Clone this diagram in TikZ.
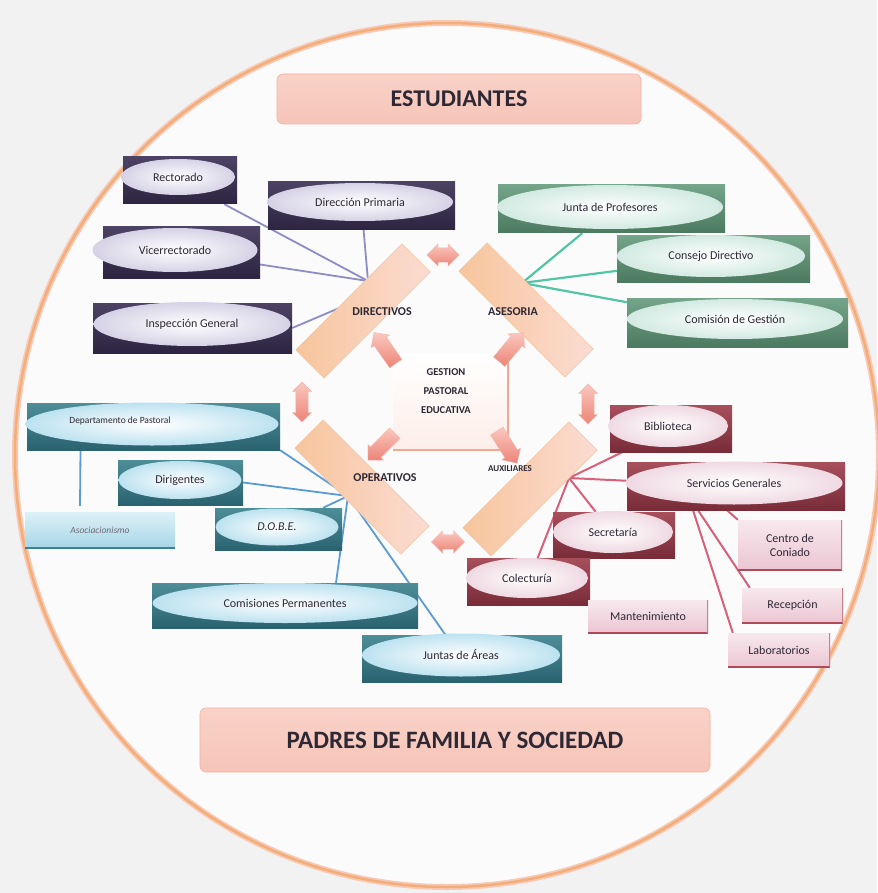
\documentclass[tikz,border=0pt]{standalone}
\usepackage{fontspec}
\setmainfont{Carlito}
\usetikzlibrary{shapes.geometric,shapes.arrows}
\pgfdeclarelayer{back}
\pgfdeclarelayer{lines}
\pgfsetlayers{back,lines,main}
\definecolor{bgc}{HTML}{F3F2F2}
\definecolor{inside}{HTML}{FCFBFB}
\definecolor{ringA}{HTML}{F8C9B6}
\definecolor{ringB}{HTML}{F3AE78}
\definecolor{txt}{HTML}{2E2834}
\definecolor{dirA}{HTML}{4C4364}
\definecolor{dirB}{HTML}{2C2440}
\definecolor{dirE}{HTML}{D6D2E6}
\definecolor{aseA}{HTML}{74A489}
\definecolor{aseB}{HTML}{4C7A60}
\definecolor{aseE}{HTML}{D2EAE2}
\definecolor{opA}{HTML}{4E8E98}
\definecolor{opB}{HTML}{2A6270}
\definecolor{opE}{HTML}{BCE2F0}
\definecolor{auxA}{HTML}{A84F5C}
\definecolor{auxB}{HTML}{782C38}
\definecolor{auxE}{HTML}{EFD9E2}
\definecolor{pkA}{HTML}{F8E8EE}
\definecolor{pkB}{HTML}{EBC6D2}
\definecolor{pkL}{HTML}{B04A5A}
\definecolor{asA}{HTML}{DDF1F8}
\definecolor{asB}{HTML}{A6D5E8}
\definecolor{asL}{HTML}{3F7F99}
\definecolor{dlc}{HTML}{8C8CC6}
\definecolor{alc}{HTML}{52C6A4}
\definecolor{olc}{HTML}{5B9BD5}
\definecolor{xlc}{HTML}{D8607A}
\definecolor{barA}{HTML}{F7C59C}
\definecolor{barB}{HTML}{FBDCD2}
\definecolor{barL}{HTML}{F3C4A2}
\definecolor{arA}{HTML}{FBC8BE}
\definecolor{arB}{HTML}{EC8478}
\definecolor{lbA}{HTML}{F9D2C8}
\definecolor{lbM}{HTML}{F7C494}
\definecolor{lbB}{HTML}{F6C4B8}
\definecolor{coreL}{HTML}{F1A88E}
\begin{document}
\begin{tikzpicture}[x=1pt,y=-1pt,
  ubox/.style={rectangle, inner sep=0pt, draw=none},
  lab/.style={font=\fontsize{12}{14}\selectfont, text=txt},
  dirbox/.style={ubox, top color=dirA, bottom color=dirB},
  direll/.style={ellipse, inner sep=0pt, inner color=white, outer color=dirE, lab},
  asebox/.style={ubox, top color=aseA, bottom color=aseB},
  aseell/.style={ellipse, inner sep=0pt, inner color=white, outer color=aseE, lab},
  opbox/.style={ubox, top color=opA, bottom color=opB},
  opell/.style={ellipse, inner sep=0pt, inner color=white, outer color=opE, lab},
  auxbox/.style={ubox, top color=auxA, bottom color=auxB},
  auxell/.style={ellipse, inner sep=0pt, inner color=white, outer color=auxE, lab},
  pinkbox/.style={ubox, top color=pkA, bottom color=pkB, lab, align=center,
    path picture={\draw[pkL, line width=2.5pt] (path picture bounding box.south west) -- (path picture bounding box.south east);
                  \draw[pkL!70, line width=1.5pt] (path picture bounding box.south east) -- (path picture bounding box.north east);}},
  asobox/.style={ubox, top color=asA, bottom color=asB, font=\fontsize{9.5}{11}\selectfont\itshape, text=txt!70,
    path picture={\draw[asL, line width=2.5pt] (path picture bounding box.south west) -- (path picture bounding box.south east);}},
  lbox/.style={rectangle, rounded corners=6pt, top color=lbA, middle color=lbM, bottom color=lbB, draw=lbB!90!red, line width=0.6pt, text=txt},
  barsty/.style={rectangle, minimum width=150pt, minimum height=40pt, inner sep=0pt, left color=barA, right color=barB, draw=barL, line width=0.5pt},
  blabel/.style={font=\bfseries\fontsize{12}{13}\selectfont, text=txt},
  dblarrow/.style={double arrow, double arrow head extend=3pt, inner xsep=0pt, inner ysep=5.5pt, minimum width=22pt, top color=arA, bottom color=arB, draw=arB!60, line width=0.4pt},
  sglarrow/.style={single arrow, single arrow head extend=3pt, inner xsep=0pt, inner ysep=6pt, minimum width=22pt, minimum height=38pt, top color=arA, bottom color=arB, draw=arB!60, line width=0.4pt},
  dline/.style={draw=dlc, line width=1.8pt},
  aline/.style={draw=alc, line width=2.2pt},
  oline/.style={draw=olc, line width=1.8pt},
  xline/.style={draw=xlc, line width=2pt}
]
\useasboundingbox (0,0) rectangle (877,893);
\begin{pgfonlayer}{back}
\fill[bgc] (0,0) rectangle (877,893);
\fill[inside] (447,455) circle (432pt);
\draw[ringA, line width=6pt] (447,455) circle (432pt);
\draw[ringB, line width=2.5pt] (447,455) circle (432pt);
\end{pgfonlayer}

% title boxes
\node[lbox, minimum width=364pt, minimum height=50pt, font=\bfseries\fontsize{24}{28}\selectfont] (est) at (459,99) {ESTUDIANTES};
\node[lbox, minimum width=510pt, minimum height=64pt, font=\bfseries\fontsize{25}{28}\selectfont] (pad) at (455,740) {PADRES DE FAMILIA Y SOCIEDAD};

% centre square
\node[ubox, minimum width=115pt, minimum height=97pt, top color=white, bottom color=barB!50] (core) at (450.5,401.5) {};
\draw[coreL, line width=2pt] (core.north east) -- (core.south east) -- (core.south west);

% bars
\node[barsty, rotate=45] (bDir) at (363,311) {};
\node[barsty, rotate=-45] (bAse) at (526,310) {};
\node[barsty, rotate=-45] (bOpe) at (362,487) {};
\node[barsty, rotate=45] (bAux) at (530,489) {};
\node[blabel] (tDir) at (382,312) {DIRECTIVOS};
\node[blabel] (tAse) at (513,312) {ASESORIA};
\node[blabel] (tOpe) at (385,478) {OPERATIVOS};
\node[blabel, font=\bfseries\fontsize{9}{10}\selectfont] (tAux) at (510,469) {AUXILIARES};
\node[font=\bfseries\fontsize{10.5}{19}\selectfont, text=txt, align=center] (gpe) at (446,391) {GESTION\\PASTORAL\\EDUCATIVA};

% hubs
\coordinate (hDir) at (368,281);
\coordinate (hDir2) at (344,306);
\coordinate (hAse) at (522,283);
\coordinate (hOpe) at (348,496);
\coordinate (hAux) at (569,478);

% DIRECTIVOS group
\node[dirbox, minimum width=114pt, minimum height=47pt] (rRect) at (180,180.5) {};
\node[direll, minimum width=114pt, minimum height=36pt] (rEll) at (178,177) {Rectorado};
\node[dirbox, minimum width=187pt, minimum height=48pt] (dpRect) at (361.5,206) {};
\node[direll, minimum width=186pt, minimum height=38pt] (dpEll) at (360,202) {Dirección Primaria};
\node[dirbox, minimum width=157pt, minimum height=51pt] (vRect) at (181.5,252.5) {};
\node[direll, minimum width=165pt, minimum height=44pt] (vEll) at (175,250) {Vicerrectorado};
\node[dirbox, minimum width=199pt, minimum height=50pt] (igRect) at (192.5,328) {};
\node[direll, minimum width=197pt, minimum height=44pt] (igEll) at (192,324) {Inspección General};

% ASESORIA group
\node[asebox, minimum width=227pt, minimum height=48pt] (jpRect) at (611.5,209) {};
\node[aseell, minimum width=226pt, minimum height=44pt] (jpEll) at (610,207) {Junta de Profesores};
\node[asebox, minimum width=193pt, minimum height=47pt] (cdRect) at (713.5,258.5) {};
\node[aseell, minimum width=188pt, minimum height=42pt] (cdEll) at (711,256) {Consejo Directivo};
\node[asebox, minimum width=221pt, minimum height=49pt] (cgRect) at (737.5,322.5) {};
\node[aseell, minimum width=216pt, minimum height=40pt] (cgEll) at (735,319) {Comisión de Gestión};

% OPERATIVOS group
\node[opbox, minimum width=253pt, minimum height=47pt] (dpaRect) at (153.5,426.5) {};
\node[opell, minimum width=253pt, minimum height=43pt] (dpaEll) at (152,424) {};
\node[lab, font=\fontsize{9.5}{11}\selectfont] (dpaTxt) at (120,421) {Departamento de Pastoral};
\node[opbox, minimum width=125pt, minimum height=45pt] (diRect) at (180.5,482.5) {};
\node[opell, minimum width=123pt, minimum height=38pt] (diEll) at (180,480) {Dirigentes};
\node[asobox, minimum width=150pt, minimum height=36pt] (asRect) at (100,530) {Asociacionismo};
\node[opbox, minimum width=127pt, minimum height=42pt] (doRect) at (278.5,529) {};
\node[opell, minimum width=123pt, minimum height=37pt] (doEll) at (277,527) {\itshape D.O.B.E.};
\node[opbox, minimum width=266pt, minimum height=45pt] (cpRect) at (285,605.5) {};
\node[opell, minimum width=265pt, minimum height=40pt] (cpEll) at (285,603) {Comisiones Permanentes};
\node[opbox, minimum width=200pt, minimum height=47pt] (jaRect) at (462,658.5) {};
\node[opell, minimum width=198pt, minimum height=43pt] (jaEll) at (461,655) {Juntas de Áreas};

% AUXILIARES group
\node[auxbox, minimum width=122pt, minimum height=47pt] (biRect) at (671,428.5) {};
\node[auxell, minimum width=120pt, minimum height=42pt] (biEll) at (668,426) {Biblioteca};
\node[auxbox, minimum width=218pt, minimum height=48pt] (sgRect) at (736,486) {};
\node[auxell, minimum width=217pt, minimum height=43pt] (sgEll) at (734,483) {Servicios Generales};
\node[auxbox, minimum width=122pt, minimum height=46pt] (seRect) at (614,535) {};
\node[auxell, minimum width=120pt, minimum height=42pt] (seEll) at (613,532) {Secretaría};
\node[auxbox, minimum width=123pt, minimum height=47pt] (coRect) at (528.5,581.5) {};
\node[auxell, minimum width=122pt, minimum height=40pt] (coEll) at (527,578) {Colecturía};
\node[pinkbox, minimum width=120pt, minimum height=33pt] (mRect) at (648,616.5) {Mantenimiento};
\node[pinkbox, minimum width=104pt, minimum height=50pt] (ccRect) at (790,545) {Centro de\\Coniado};
\node[pinkbox, minimum width=101pt, minimum height=35pt] (reRect) at (792.5,605.5) {Recepción};
\node[pinkbox, minimum width=102pt, minimum height=34pt] (laRect) at (779,650) {Laboratorios};

% arrows
\node[dblarrow, minimum height=32pt] (aTop) at (443,255) {};
\node[dblarrow, rotate=90, minimum height=40pt, minimum width=19pt] (aLeft) at (302,402) {};
\node[dblarrow, rotate=90, minimum height=40pt, minimum width=19pt] (aRight) at (588,404) {};
\node[dblarrow, minimum height=33pt] (aBot) at (448,542) {};
\node[sglarrow, rotate=125] (iDir) at (387,351) {};
\node[sglarrow, rotate=50] (iAse) at (509,350) {};
\node[sglarrow, rotate=-135] (iOpe) at (384,444) {};
\node[sglarrow, rotate=-58] (iAux) at (505,444) {};

% connectors
\begin{pgfonlayer}{lines}
\draw[dline] (rRect) -- (hDir);
\draw[dline] (dpRect) -- (hDir);
\draw[dline] (vRect) -- (hDir);
\draw[dline] (igRect.east) -- (hDir2);
\draw[aline] (jpRect) -- (hAse);
\draw[aline] (cdRect) -- (hAse);
\draw[aline] (cgRect) -- (hAse);
\draw[oline] (dpaRect.south east) -- (hOpe);
\draw[oline] (diRect.east) -- (hOpe);
\draw[oline] (doRect) -- (hOpe);
\draw[oline] (cpRect.24) -- (hOpe);
\draw[oline] (hOpe) -- (jaRect);
\draw[oline] ([xshift=-73pt]dpaRect.south) -- ([xshift=-20pt,yshift=6pt]asRect.north);
\draw[xline] (biRect) -- (hAux);
\draw[xline] (sgRect) -- (hAux);
\draw[xline] (seRect) -- (hAux);
\draw[xline] (coRect) -- (hAux);
\draw[xline] ([xshift=-9pt]sgRect.south) -- (ccRect.north west);
\draw[xline] ([xshift=-38pt]sgRect.south) -- ([xshift=8pt]reRect.north west);
\draw[xline] ([xshift=-43pt]sgRect.south) -- ([xshift=5pt]laRect.north west);
\end{pgfonlayer}
\end{tikzpicture}
\end{document}
